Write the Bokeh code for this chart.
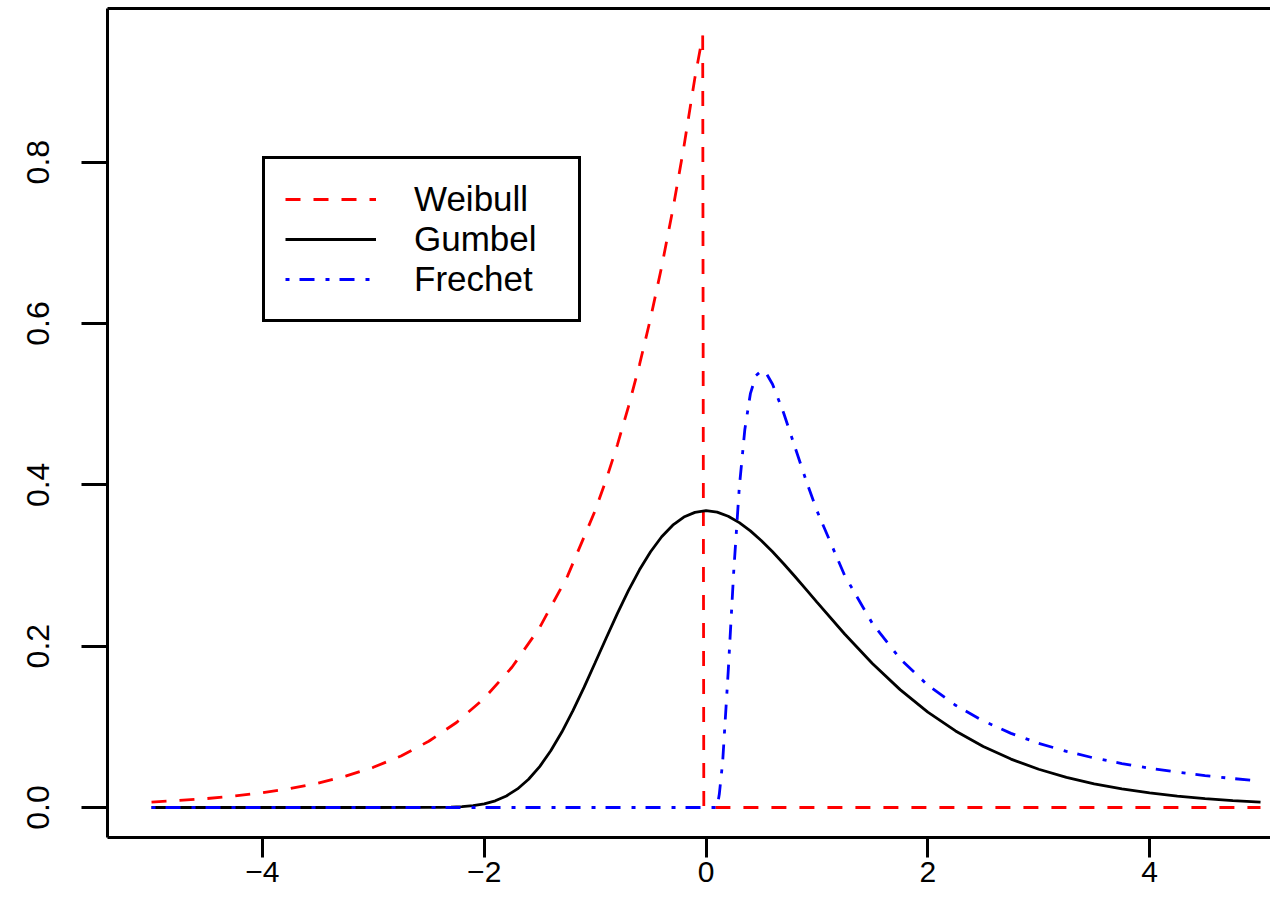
from bokeh.plotting import figure
from bokeh.models import (Range1d, FixedTicker, LinearAxis, Legend, LegendItem)
from bokeh.embed import file_html
from bokeh.resources import INLINE

# ---- data ----
weibull_x = [-5.0, -4.75, -4.5, -4.25, -4.0, -3.75, -3.5, -3.25, -3.0, -2.75, -2.5,
             -2.25, -2.0, -1.75, -1.5, -1.25, -1.0, -0.9, -0.8, -0.7, -0.6, -0.5,
             -0.4, -0.3, -0.2, -0.1, -0.03, -0.02, 5.0]
weibull_y = [0.0067, 0.0087, 0.0111, 0.0143, 0.0183, 0.0235, 0.0302, 0.0388, 0.0498,
             0.0639, 0.0821, 0.1054, 0.1353, 0.1738, 0.2231, 0.2865, 0.3679, 0.4066,
             0.4493, 0.4966, 0.5488, 0.6065, 0.6703, 0.7408, 0.8187, 0.9048, 0.957,
             0.0, 0.0]

gumbel_x = [-5.0, -3.0, -2.5, -2.4, -2.3, -2.2, -2.1, -2.0, -1.9, -1.8, -1.7, -1.6,
            -1.5, -1.4, -1.3, -1.2, -1.1, -1.0, -0.9, -0.8, -0.7, -0.6, -0.5, -0.4,
            -0.3, -0.2, -0.1, 0.0, 0.1, 0.2, 0.3, 0.4, 0.5, 0.6, 0.7, 0.8, 0.9, 1.0,
            1.25, 1.5, 1.75, 2.0, 2.25, 2.5, 2.75, 3.0, 3.25, 3.5, 3.75, 4.0, 4.25,
            4.5, 4.75, 5.0]
gumbel_y = [0.0, 0.0, 0.0001, 0.0002, 0.0005, 0.0011, 0.0023, 0.0046, 0.0083, 0.0143,
            0.0230, 0.0350, 0.0507, 0.0703, 0.0935, 0.1200, 0.1490, 0.1794, 0.2101,
            0.2404, 0.2688, 0.2946, 0.3170, 0.3356, 0.3500, 0.3601, 0.3659, 0.3679,
            0.3661, 0.3611, 0.3531, 0.3429, 0.3307, 0.3170, 0.3022, 0.2867, 0.2707,
            0.2546, 0.2151, 0.1785, 0.1461, 0.1182, 0.0949, 0.0756, 0.0600, 0.0474,
            0.0373, 0.0293, 0.0230, 0.0180, 0.0141, 0.0110, 0.0086, 0.0067]

frechet_x = [-5.0, 0.1, 0.12, 0.15, 0.2, 0.25, 0.3, 0.35, 0.4, 0.45, 0.5, 0.55, 0.6,
             0.7, 0.8, 0.9, 1.0, 1.25, 1.5, 1.75, 2.0, 2.25, 2.5, 2.75, 3.0, 3.25,
             3.5, 3.75, 4.0, 4.25, 4.5, 4.75, 5.0]
frechet_y = [0.0, 0.0, 0.0167, 0.0565, 0.1684, 0.2930, 0.3966, 0.4687, 0.5130, 0.5354,
             0.5413, 0.5366, 0.5246, 0.4890, 0.4476, 0.4064, 0.3679, 0.2876, 0.2282,
             0.1844, 0.1516, 0.1267, 0.1073, 0.0919, 0.0796, 0.0696, 0.0613, 0.0545,
             0.0487, 0.0438, 0.0395, 0.0359, 0.0327]

series_names = ["Weibull", "Gumbel", "Frechet"]
x_ticks = [-4, -2, 0, 2, 4]
x_tick_labels = ["\u22124", "\u22122", "0", "2", "4"]
y_ticks = [0.0, 0.2, 0.4, 0.6, 0.8]
y_tick_labels = ["0.0", "0.2", "0.4", "0.6", "0.8"]

FONT = "Liberation Sans"

p = figure(width=1270, height=897, output_backend="svg", toolbar_location=None,
           x_range=Range1d(-5.397, 5.090), y_range=Range1d(-0.0372, 0.9905),
           x_axis_location="below", y_axis_location="left")
p.min_border_left = 107
p.min_border_right = 0
p.min_border_top = 8
p.min_border_bottom = 60
p.outline_line_color = None
p.grid.visible = False
p.background_fill_color = "white"
p.border_fill_color = "white"

for ax in (p.xaxis[0], p.yaxis[0]):
    ax.axis_line_width = 3
    ax.axis_line_color = "black"
    ax.major_tick_line_width = 3
    ax.major_tick_line_color = "black"
    ax.minor_tick_line_color = None
    ax.major_tick_in = 0
    ax.major_label_text_font = FONT
    ax.major_label_text_color = "black"

p.xaxis[0].ticker = FixedTicker(ticks=x_ticks)
p.xaxis[0].major_label_overrides = dict(zip(x_ticks, x_tick_labels))
p.xaxis[0].major_tick_out = 20
p.xaxis[0].major_label_standoff = 4
p.xaxis[0].major_label_text_font_size = "30px"

p.yaxis[0].ticker = FixedTicker(ticks=y_ticks)
p.yaxis[0].major_label_overrides = dict(zip(y_ticks, y_tick_labels))
p.yaxis[0].major_tick_out = 26
p.yaxis[0].major_label_standoff = 32
p.yaxis[0].major_label_text_font_size = "32px"
p.yaxis[0].major_label_orientation = "vertical"

top_axis = LinearAxis(ticker=FixedTicker(ticks=[]), axis_line_width=3,
                      axis_line_color="black", major_tick_out=0, major_tick_in=0,
                      minor_tick_out=0, minor_tick_in=0)
p.add_layout(top_axis, "above")

r_w = p.line(weibull_x, weibull_y, line_color="#FF0000", line_width=2.8,
             line_dash="15 13")
r_g = p.line(gumbel_x, gumbel_y, line_color="black", line_width=2.8)
r_f = p.line(frechet_x, frechet_y, line_color="#0000FF", line_width=2.8,
             line_dash="4 10 15 11")

legend = Legend(items=[LegendItem(label=series_names[0], renderers=[r_w]),
                       LegendItem(label=series_names[1], renderers=[r_g]),
                       LegendItem(label=series_names[2], renderers=[r_f])],
                location=(155, 515), orientation="vertical",
                border_line_color="black", border_line_width=3,
                border_line_alpha=1.0,
                background_fill_color="white", background_fill_alpha=1.0,
                label_text_font=FONT, label_text_font_size="35px",
                label_text_color="black", padding=20, spacing=0, margin=0,
                glyph_width=91, glyph_height=38, label_height=38,
                label_standoff=38, label_width=144)
p.add_layout(legend, "center")

open("out.html", "w").write(file_html(p, INLINE))
